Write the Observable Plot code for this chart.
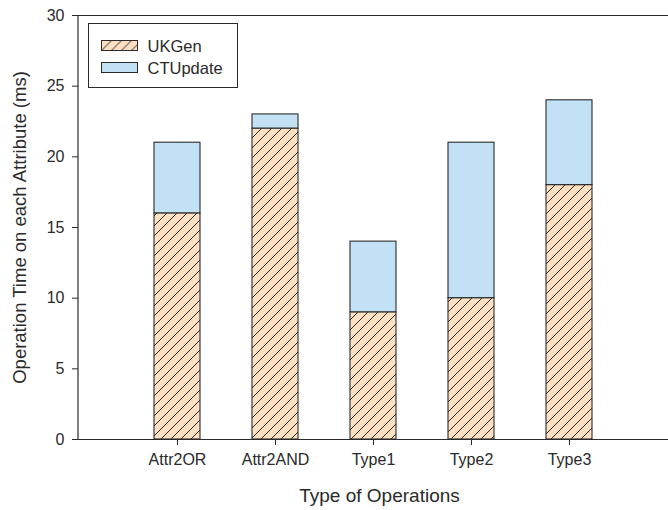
<!DOCTYPE html>
<html>
<head>
<meta charset="utf-8">
<script src="https://cdn.jsdelivr.net/npm/d3@7"></script>
<script src="https://cdn.jsdelivr.net/npm/@observablehq/plot@0.6"></script>
<style>
  html, body { margin: 0; padding: 0; background: #fff; }
  #wrap { position: relative; width: 668px; height: 510px; font-family: "Liberation Sans", Arial, sans-serif; }
  #legend { position: absolute; left: 88px; top: 23px; }
</style>
</head>
<body>
<div id="wrap"></div>
<script>
const operations = ["Attr2OR", "Attr2AND", "Type1", "Type2", "Type3"];
const series = ["UKGen", "CTUpdate"];
const ukgen = [16, 22, 9, 10, 18];
const ctupdate = [5, 1, 5, 11, 6];
const yTicks = [0, 5, 10, 15, 20, 25, 30];
const xTitle = "Type of Operations";
const yTitle = "Operation Time on each Attribute (ms)";

const peach = "#fddfc2";
const blue = "#c3e1f4";
const ink = "#2a2a2a";

const data = [];
operations.forEach((op, i) => {
  data.push({op, series: "UKGen", value: ukgen[i]});
  data.push({op, series: "CTUpdate", value: ctupdate[i]});
});

const plot = Plot.plot({
  width: 668,
  height: 510,
  marginLeft: 78,
  marginRight: 0,
  marginTop: 15,
  marginBottom: 71,
  style: {fontFamily: "'Liberation Sans', Arial, sans-serif", fontSize: "16px", color: ink, background: "#fff"},
  x: {domain: operations, paddingInner: 0.532, paddingOuter: 0.773, label: null},
  y: {domain: [0, 30], label: null},
  color: {domain: series, range: ["url(#hatch)", blue]},
  marks: [
    Plot.barY(data, {x: "op", y: "value", fill: "series", stroke: ink, strokeWidth: 1.1}),
    Plot.ruleY([0, 30], {stroke: ink, strokeWidth: 1.2}),
    Plot.axisY({ticks: yTicks, tickSize: 6, tickPadding: 8, fontSize: 16, label: null, stroke: ink}),
    Plot.axisX({tickSize: 6, tickPadding: 8, fontSize: 16, label: null, stroke: ink}),
    Plot.text([yTitle], {frameAnchor: "left", textAnchor: "middle", lineAnchor: "middle", dx: -58, rotate: -90, fontSize: 18.5, fill: ink}),
    Plot.text([xTitle], {frameAnchor: "bottom", textAnchor: "middle", lineAnchor: "middle", dx: 6, dy: 56, fontSize: 19, fill: ink})
  ]
});

const svg = d3.select(plot);
svg.insert("defs", ":first-child").html(`
  <pattern id="hatch" patternUnits="userSpaceOnUse" width="10" height="10">
    <rect width="10" height="10" fill="${peach}"></rect>
    <path d="M0,10 L10,0 M-2,2 L2,-2 M8,12 L12,8" stroke="${ink}" stroke-width="1"></path>
  </pattern>`);

// left axis line along the frame
const xr = plot.scale("x").range;
const yr = plot.scale("y").range;
svg.append("line")
  .attr("x1", xr[0]).attr("x2", xr[0])
  .attr("y1", yr[0]).attr("y2", yr[1])
  .attr("stroke", ink).attr("stroke-width", 1.2);

document.getElementById("wrap").appendChild(plot);

// legend
const legend = d3.select("#wrap").append("svg")
  .attr("id", "legend").attr("width", 150).attr("height", 65);
legend.append("defs").html(`
  <pattern id="hatchL" patternUnits="userSpaceOnUse" width="10" height="10">
    <rect width="10" height="10" fill="${peach}"></rect>
    <path d="M0,10 L10,0 M-2,2 L2,-2 M8,12 L12,8" stroke="${ink}" stroke-width="1"></path>
  </pattern>`);
legend.append("rect").attr("x", 0.5).attr("y", 0.5).attr("width", 149).attr("height", 64)
  .attr("fill", "#fff").attr("stroke", ink).attr("stroke-width", 1);
const legendFills = ["url(#hatchL)", blue];
series.forEach((s, i) => {
  const g = legend.append("g").attr("transform", `translate(13.5, ${17.5 + i * 22})`);
  g.append("rect").attr("width", 36).attr("height", 10)
    .attr("fill", legendFills[i]).attr("stroke", ink).attr("stroke-width", 1);
  g.append("text").attr("x", 46).attr("y", 11).attr("font-size", 16.5)
    .attr("font-family", "'Liberation Sans', Arial, sans-serif").attr("fill", ink).text(s);
});
</script>
</body>
</html>
